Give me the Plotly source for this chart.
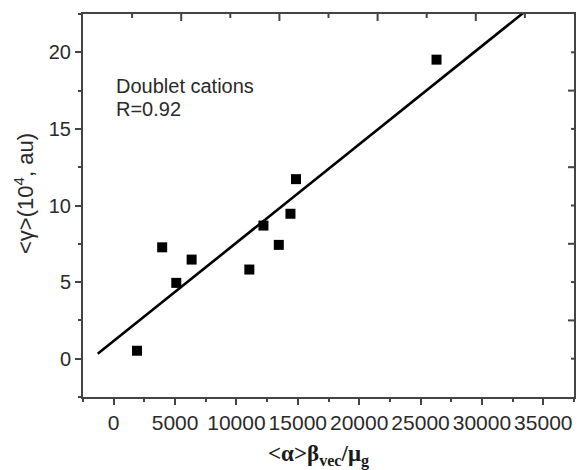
import numpy as np
import plotly.graph_objects as go

# Data
x_vals = [1900, 3950, 5100, 6350, 11050, 12200, 13450, 14400, 14850, 26300]
y_vals = [0.52, 7.27, 4.95, 6.47, 5.82, 8.69, 7.43, 9.46, 11.72, 19.52]
fit_x_span = [-1300, 36000]

x_tickvals = [0, 5000, 10000, 15000, 20000, 25000, 30000, 35000]
y_tickvals = [0, 5, 10, 15, 20]
# top / right frame ticks (inward), in tenths of the frame
mirror_major = [2, 4, 6, 8]
mirror_minor = [1, 3, 5, 7, 9]

slope, intercept = np.polyfit(x_vals, y_vals, 1)
fit_y = [slope * v + intercept for v in fit_x_span]

FRAME = "#444444"
TXT = "#2a2a2a"
SANS = "Liberation Sans, Arial, sans-serif"
SERIF = "Liberation Serif, Times New Roman, serif"

fig = go.Figure()
fig.add_trace(go.Scatter(x=fit_x_span, y=fit_y, mode="lines",
                         line=dict(color="black", width=2.6),
                         showlegend=False, hoverinfo="skip"))
fig.add_trace(go.Scatter(x=x_vals, y=y_vals, mode="markers",
                         marker=dict(symbol="square", size=10, color="black",
                                     line=dict(width=0)),
                         showlegend=False))

# inward ticks on the top and right frame edges (paper coordinates)
shapes = []
for vals, ln_top, ln_right in ((mirror_major, 7, 6), (mirror_minor, 4, 3)):
    for k in vals:
        shapes.append(dict(type="line", xref="paper", yref="paper",
                           x0=k / 10, x1=k / 10, ysizemode="pixel", yanchor=1,
                           y0=0, y1=-ln_top, layer="above",
                           line=dict(color=FRAME, width=2)))
        shapes.append(dict(type="line", xref="paper", yref="paper",
                           y0=k / 10, y1=k / 10, xsizemode="pixel", xanchor=1,
                           x0=0, x1=-ln_right, layer="above",
                           line=dict(color=FRAME, width=2)))

# the page body adds an 8px offset, so the figure is 8px smaller
fig.update_layout(
    template="none",
    width=579, height=462,
    margin=dict(l=75, r=13, t=6, b=73, autoexpand=False),
    paper_bgcolor="white", plot_bgcolor="white",
    font=dict(family=SANS, size=20, color=TXT),
    shapes=shapes,
    xaxis=dict(range=[-2500, 37500], tickvals=x_tickvals, tickformat="d",
               showgrid=False, zeroline=False, automargin=False,
               showline=True, linecolor=FRAME, linewidth=2, mirror=True,
               ticks="outside", ticklen=6, tickwidth=2, tickcolor=FRAME,
               minor=dict(ticks="outside", dtick=2500, tick0=0, ticklen=3,
                          tickwidth=2, tickcolor=FRAME, showgrid=False),
               tickfont=dict(family=SANS, size=21, color=TXT)),
    yaxis=dict(range=[-2.5, 22.5], tickvals=y_tickvals,
               showgrid=False, zeroline=False, automargin=False,
               showline=True, linecolor=FRAME, linewidth=2, mirror=True,
               ticks="outside", ticklen=6, tickwidth=2, tickcolor=FRAME,
               minor=dict(ticks="outside", dtick=2.5, tick0=0, ticklen=3,
                          tickwidth=2, tickcolor=FRAME, showgrid=False),
               tickfont=dict(family=SANS, size=20, color=TXT)),
    annotations=[
        dict(text="Doublet cations", x=0, y=17.79, xref="x", yref="y",
             xanchor="left", yanchor="middle", showarrow=False,
             font=dict(family=SANS, size=20, color=TXT)),
        dict(text="R=0.92", x=0, y=16.32, xref="x", yref="y",
             xanchor="left", yanchor="middle", showarrow=False,
             font=dict(family=SANS, size=20, color=TXT)),
        # y-axis title
        dict(text="&lt;γ&gt;(10<sup>4</sup>, au)", x=0, y=0.53,
             xref="paper", yref="paper", xanchor="center", yanchor="middle",
             xshift=-59, textangle=-90, showarrow=False,
             font=dict(family=SANS, size=22, color=TXT)),
        # x-axis title
        dict(text="<b>&lt;α&gt;β<sub>vec</sub>/μ<sub>g</sub></b>",
             x=0.479, y=0, xref="paper", yref="paper",
             xanchor="center", yanchor="middle", yshift=-58,
             showarrow=False,
             font=dict(family=SERIF, size=23, color="#1a1a1a")),
    ],
)

fig.write_html("out.html")
